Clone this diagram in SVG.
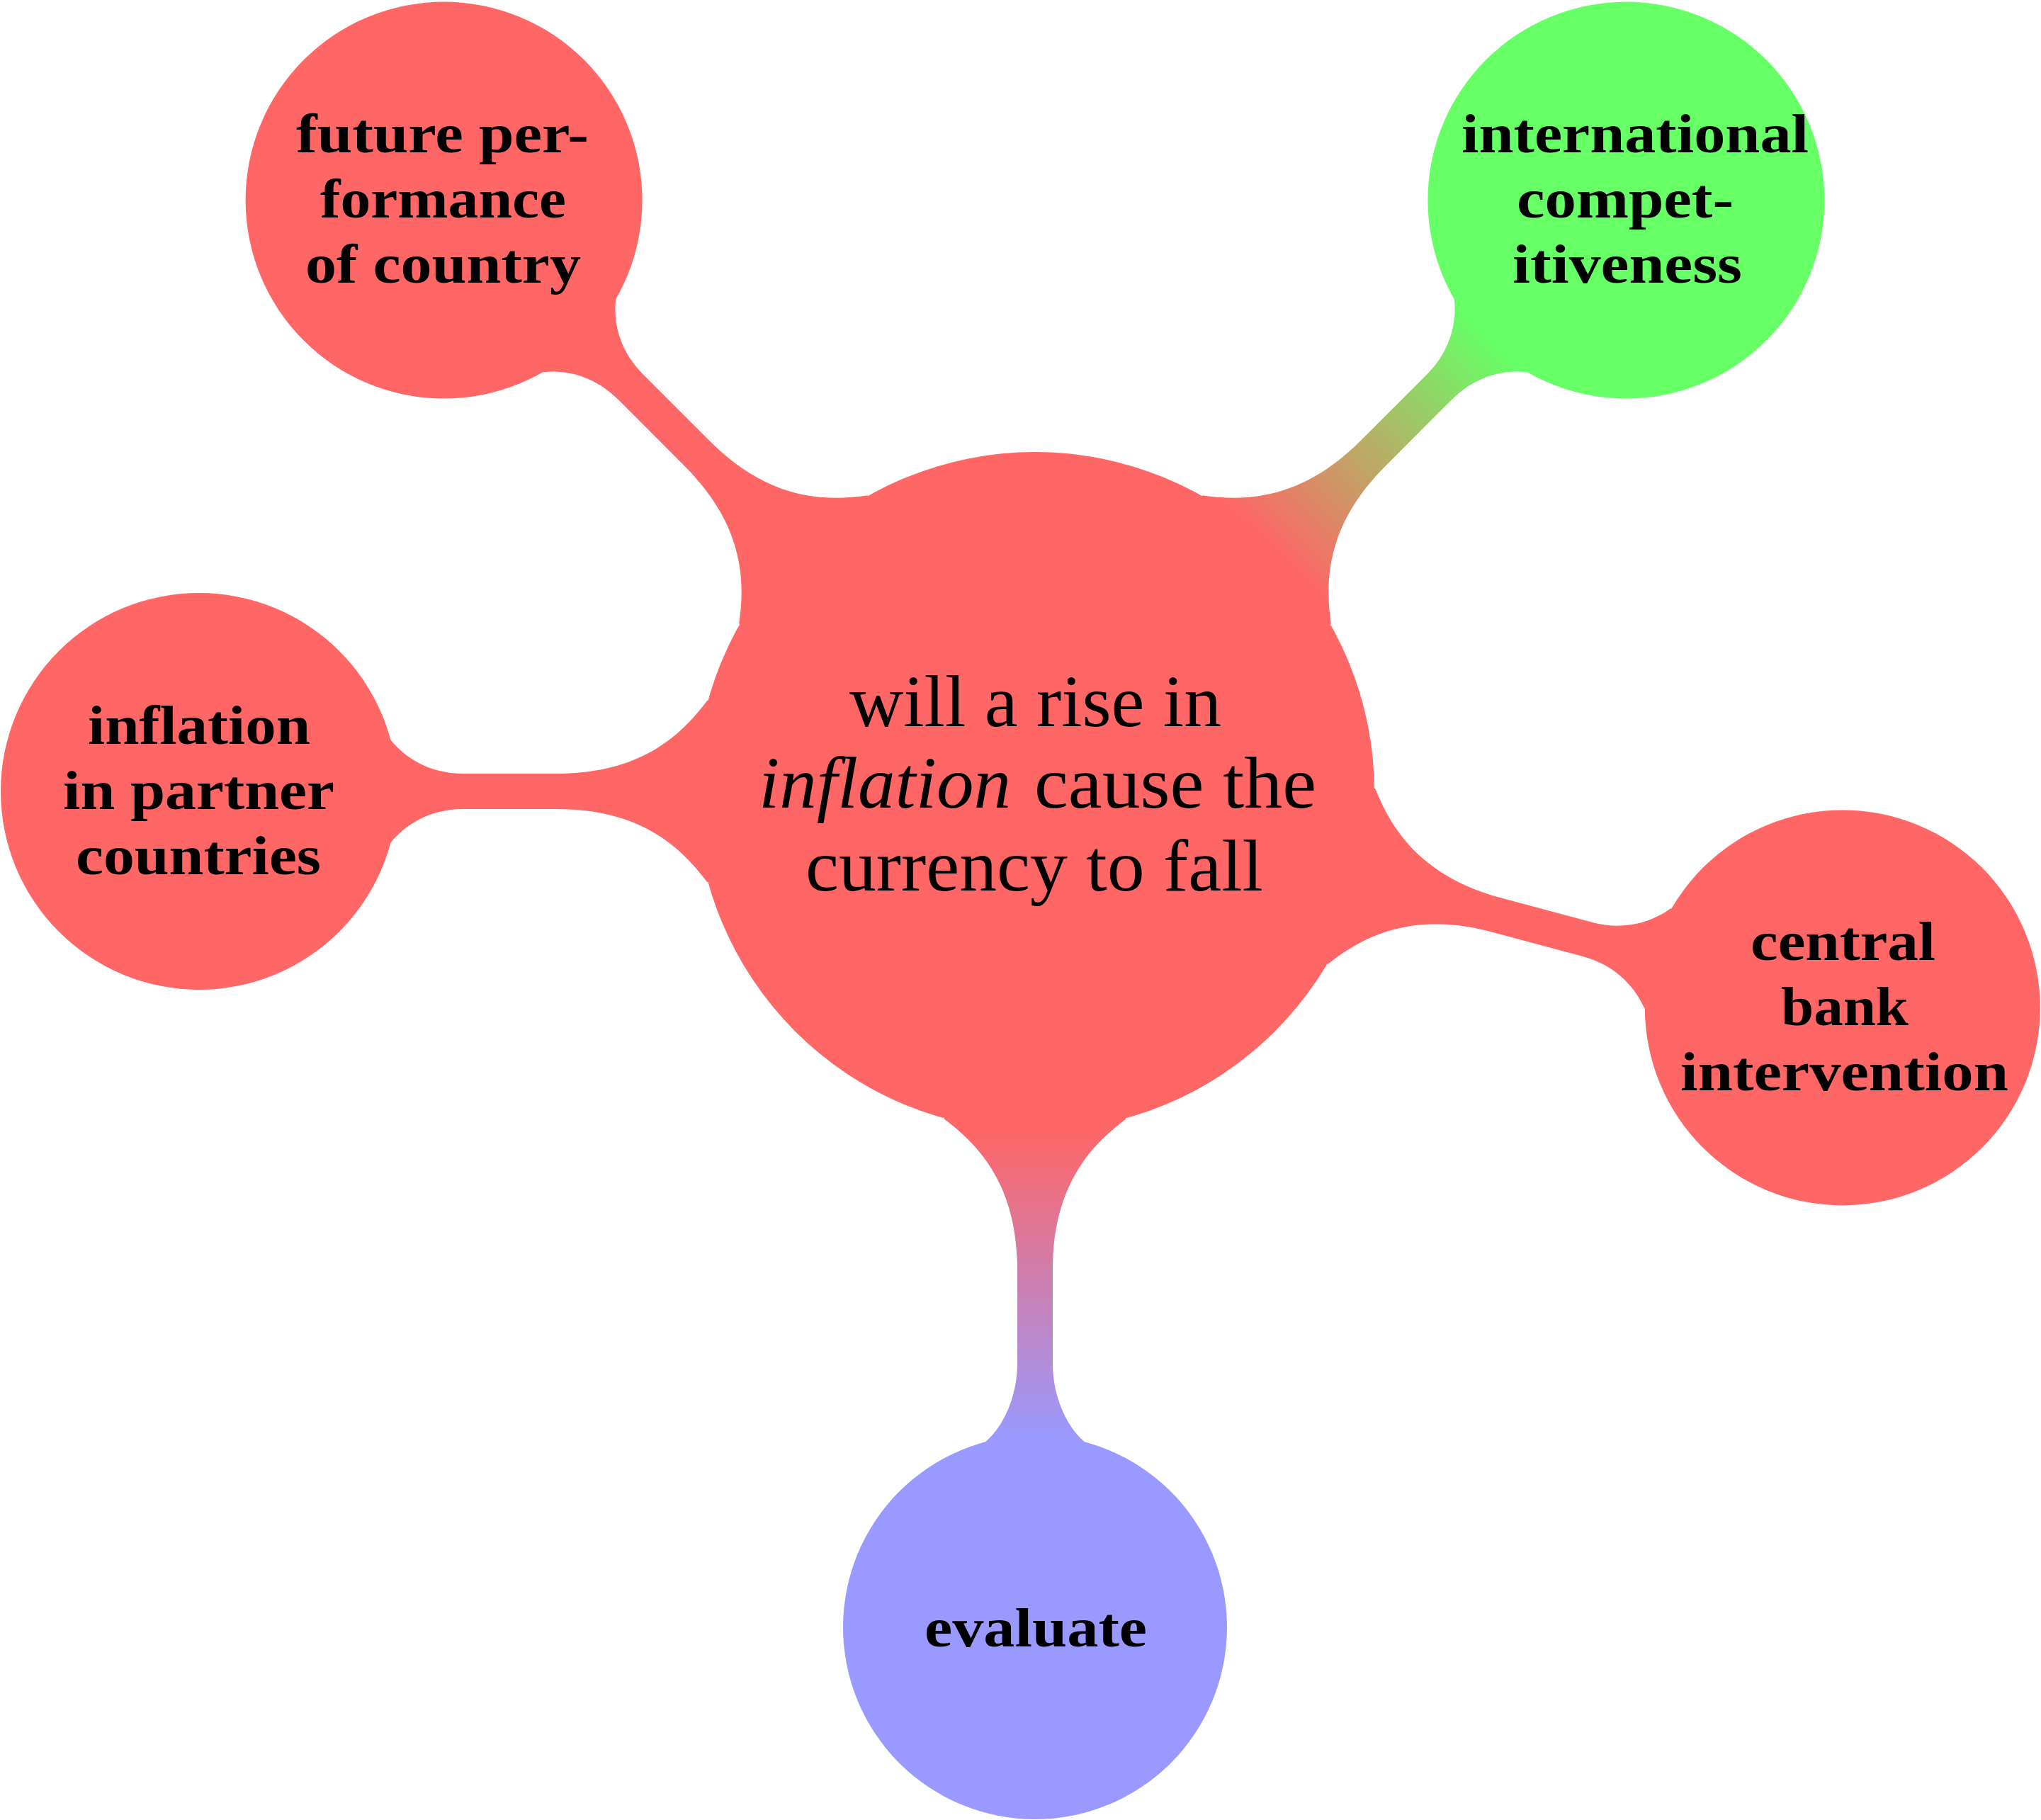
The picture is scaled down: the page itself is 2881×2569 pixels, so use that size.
<svg xmlns="http://www.w3.org/2000/svg" width="2881" height="2569" viewBox="0 0 2881 2569">
<style>
.red{fill:#FF6666}
.green{fill:#66FF66}
.blue{fill:#9999FF}
text{font-family:"Liberation Serif","DejaVu Serif",serif;fill:#000}
.child{font-weight:bold;font-size:78px}
.main{font-size:104px}
.it{font-style:italic}
</style>
<defs>
<linearGradient id="gRG" gradientUnits="userSpaceOnUse" x1="478" y1="0" x2="905" y2="0">
<stop offset="0" stop-color="#FF6666"/>
<stop offset="1" stop-color="#66FF66"/>
</linearGradient>
<linearGradient id="gRB" gradientUnits="userSpaceOnUse" x1="478" y1="0" x2="915" y2="0">
<stop offset="0" stop-color="#FF6666"/>
<stop offset="1" stop-color="#9999FF"/>
</linearGradient>
<path id="bar280" d="M 0,0 L 462.6,-128.3 C 498.6,-80.3 555,-25 675,-25 L 807,-25 C 857,-25 890.6,-49.1 909.5,-72.5 L 1180,0 L 909.5,72.5 C 890.6,49.1 857,25 807,25 L 675,25 C 555,25 498.6,80.3 462.6,128.3 Z"/>
<path id="bar271" d="M 0,0 L 462.6,-128.3 C 498.6,-80.3 555,-25 675,-25 L 807,-25 C 857,-25 899.3,-46.7 918.2,-70.1 L 1180,0 L 918.2,70.1 C 899.3,46.7 857,25 807,25 L 675,25 C 555,25 498.6,80.3 462.6,128.3 Z"/>
</defs>
<rect width="2881" height="2569" fill="#FFFFFF"/>
<g id="connectors">
<use href="#bar280" class="red" transform="translate(1461,1117) rotate(-135)"/>
<use href="#bar280" fill="url(#gRG)" transform="translate(1461,1117) rotate(-45)"/>
<use href="#bar280" class="red" transform="translate(1461,1117) rotate(180)"/>
<use href="#bar280" class="red" transform="translate(1461,1117) rotate(15)"/>
<use href="#bar271" fill="url(#gRB)" transform="translate(1461,1117) rotate(90)"/>
</g>
<g id="center">
<circle class="red" cx="1461" cy="1117" r="479"/>
<text class="main" x="1199" y="1025" textLength="525" lengthAdjust="spacingAndGlyphs">will a rise in</text>
<text class="main it" x="1071" y="1140" textLength="356" lengthAdjust="spacingAndGlyphs">inflation</text>
<text class="main" x="1460" y="1140" textLength="398" lengthAdjust="spacingAndGlyphs">cause the</text>
<text class="main" x="1137" y="1257" textLength="646" lengthAdjust="spacingAndGlyphs">currency to fall</text>
</g>
<g id="future-performance">
<circle class="red" cx="626.6" cy="282.6" r="280"/>
<text class="child" x="418" y="215" textLength="413" lengthAdjust="spacingAndGlyphs">future per-</text>
<text class="child" x="452" y="307" textLength="347" lengthAdjust="spacingAndGlyphs">formance</text>
<text class="child" x="431" y="399" textLength="389" lengthAdjust="spacingAndGlyphs">of country</text>
</g>
<g id="international-competitiveness">
<circle class="green" cx="2295.4" cy="282.6" r="280"/>
<text class="child" x="2063" y="215" textLength="490" lengthAdjust="spacingAndGlyphs">international</text>
<text class="child" x="2141" y="307" textLength="306" lengthAdjust="spacingAndGlyphs">compet-</text>
<text class="child" x="2135" y="399" textLength="324" lengthAdjust="spacingAndGlyphs">itiveness</text>
</g>
<g id="inflation-partner">
<circle class="red" cx="281" cy="1117" r="280"/>
<text class="child" x="124" y="1050" textLength="314" lengthAdjust="spacingAndGlyphs">inflation</text>
<text class="child" x="89" y="1142" textLength="383" lengthAdjust="spacingAndGlyphs">in partner</text>
<text class="child" x="107" y="1234" textLength="346" lengthAdjust="spacingAndGlyphs">countries</text>
</g>
<g id="central-bank">
<circle class="red" cx="2600.8" cy="1422.4" r="279"/>
<text class="child" x="2471" y="1355" textLength="261" lengthAdjust="spacingAndGlyphs">central</text>
<text class="child" x="2514" y="1447" textLength="180" lengthAdjust="spacingAndGlyphs">bank</text>
<text class="child" x="2372" y="1539" textLength="463" lengthAdjust="spacingAndGlyphs">intervention</text>
</g>
<g id="evaluate">
<circle class="blue" cx="1461" cy="2297" r="271"/>
<text class="child" x="1305" y="2324" textLength="314" lengthAdjust="spacingAndGlyphs">evaluate</text>
</g>
</svg>
